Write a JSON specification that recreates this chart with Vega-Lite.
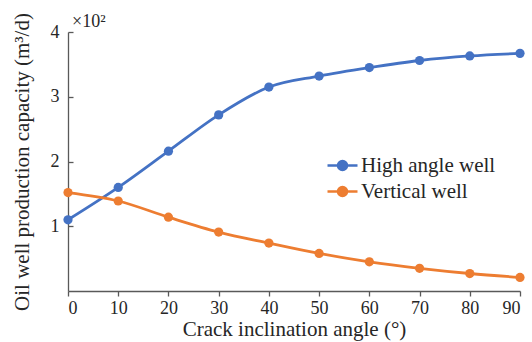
{
  "$schema": "https://vega.github.io/schema/vega-lite/v6.json",
  "autosize": "none",
  "width": 452,
  "height": 259,
  "padding": {"left": 68, "top": 32, "right": 12, "bottom": 51},
  "background": "white",
  "config": {
    "font": "Liberation Serif",
    "view": {"stroke": null},
    "legend": {"labelFont": "Liberation Serif", "labelFontSize": 21, "labelColor": "#262626"},
    "axis": {"grid": false, "domainColor": "#595959", "tickColor": "#595959", "labelColor": "#262626", "titleColor": "#262626", "labelFont": "Liberation Serif", "titleFont": "Liberation Serif", "labelFontSize": 18, "titleFontSize": 21, "titleFontWeight": "normal", "domainWidth": 1.3, "tickWidth": 1.3}
  },
  "datasets": {
    "series": [
      {"angle": 0, "v": 1.10, "s": "High angle well"},
      {"angle": 10, "v": 1.60, "s": "High angle well"},
      {"angle": 20, "v": 2.16, "s": "High angle well"},
      {"angle": 30, "v": 2.72, "s": "High angle well"},
      {"angle": 40, "v": 3.15, "s": "High angle well"},
      {"angle": 50, "v": 3.32, "s": "High angle well"},
      {"angle": 60, "v": 3.45, "s": "High angle well"},
      {"angle": 70, "v": 3.56, "s": "High angle well"},
      {"angle": 80, "v": 3.63, "s": "High angle well"},
      {"angle": 90, "v": 3.67, "s": "High angle well"},
      {"angle": 0, "v": 1.52, "s": "Vertical well"},
      {"angle": 10, "v": 1.39, "s": "Vertical well"},
      {"angle": 20, "v": 1.14, "s": "Vertical well"},
      {"angle": 30, "v": 0.91, "s": "Vertical well"},
      {"angle": 40, "v": 0.74, "s": "Vertical well"},
      {"angle": 50, "v": 0.58, "s": "Vertical well"},
      {"angle": 60, "v": 0.45, "s": "Vertical well"},
      {"angle": 70, "v": 0.35, "s": "Vertical well"},
      {"angle": 80, "v": 0.27, "s": "Vertical well"},
      {"angle": 90, "v": 0.21, "s": "Vertical well"}
    ],
    "mult": [{"angle": 0, "v": 4, "label": "×10²"}]
  },
  "layer": [
    {
      "data": {"name": "series"},
      "mark": {"type": "line", "interpolate": "monotone", "strokeWidth": 2.8},
      "encoding": {
        "x": {"field": "angle", "type": "quantitative", "scale": {"domain": [0, 90], "nice": false}, "axis": {"values": [0,10,20,30,40,50,60,70,80,90], "format": "d", "title": "Crack inclination angle (°)", "tickSize": 5, "labelPadding": 3, "titlePadding": 1}},
        "y": {"field": "v", "type": "quantitative", "scale": {"domain": [0, 4], "nice": false}, "axis": {"values": [1,2,3,4], "format": "d", "title": "Oil well production capacity (m³/d)", "tickSize": -5, "labelPadding": 14, "titlePadding": 18}},
        "color": {"field": "s", "type": "nominal", "scale": {"domain": ["High angle well", "Vertical well"], "range": ["#4472C4", "#ED7D31"]},
          "legend": {"title": null, "orient": "none", "legendX": 264, "legendY": 123, "labelFont": "Liberation Serif", "labelFontSize": 21, "labelColor": "#262626", "symbolType": "M-2,0L2,0M-0.6,0A0.6,0.6 0 1,1 0.6,0A0.6,0.6 0 1,1 -0.6,0Z", "symbolSize": 225, "symbolStrokeWidth": 2.5, "rowPadding": 4, "labelOffset": 8,
            "encode": {"symbols": {"update": {"stroke": {"scale": "color", "field": "value"}, "fill": {"scale": "color", "field": "value"}}}}}}
      }
    },
    {
      "data": {"name": "series"},
      "mark": {"type": "point", "filled": true, "size": 85, "opacity": 1},
      "encoding": {
        "x": {"field": "angle", "type": "quantitative"},
        "y": {"field": "v", "type": "quantitative"},
        "color": {"field": "s", "type": "nominal"}
      }
    },
    {
      "data": {"name": "mult"},
      "mark": {"type": "text", "align": "left", "baseline": "alphabetic", "dx": 4, "dy": -5, "fontSize": 18, "font": "Liberation Serif", "color": "#262626"},
      "encoding": {
        "x": {"field": "angle", "type": "quantitative"},
        "y": {"field": "v", "type": "quantitative"},
        "text": {"field": "label"}
      }
    }
  ]
}
